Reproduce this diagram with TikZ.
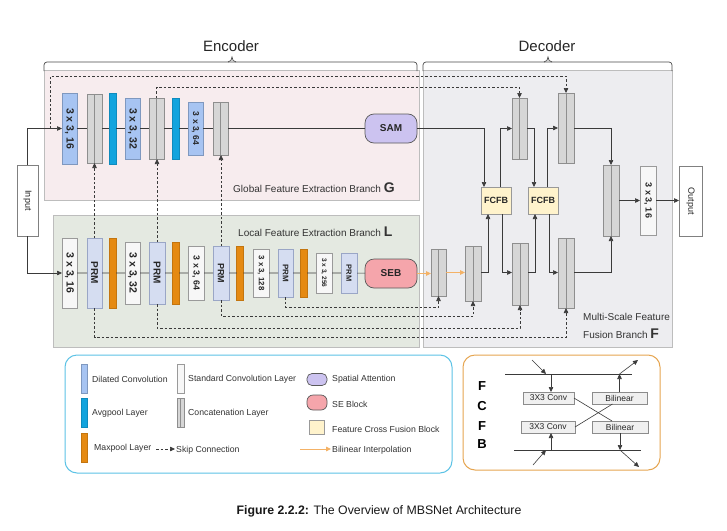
\documentclass[tikz,border=0pt]{standalone}
\usepackage{fontspec}
\setmainfont{Liberation Sans}
\usetikzlibrary{arrows.meta,calc}
\definecolor{pinkF}{HTML}{F7ECEE}
\definecolor{greenF}{HTML}{E4E9E1}
\definecolor{decF}{HTML}{EDEDF0}
\definecolor{regB}{HTML}{BDBDBD}
\definecolor{dilF}{HTML}{A7C4F2}
\definecolor{dilB}{HTML}{7F98BF}
\definecolor{catF}{HTML}{D6D6D6}
\definecolor{catB}{HTML}{8E8E8E}
\definecolor{avgF}{HTML}{12A4DE}
\definecolor{maxF}{HTML}{E58A12}
\definecolor{stdF}{HTML}{F7F7F7}
\definecolor{stdB}{HTML}{9A9A9A}
\definecolor{prmF}{HTML}{D5DDF1}
\definecolor{prmB}{HTML}{9AA6C6}
\definecolor{samF}{HTML}{CCC3F0}
\definecolor{sebF}{HTML}{F5A5AB}
\definecolor{fcfbF}{HTML}{FFF3CC}
\definecolor{bilC}{HTML}{F4B266}
\definecolor{legB}{HTML}{5DC3E6}
\definecolor{legO}{HTML}{E6A550}
\definecolor{lineC}{HTML}{3A3A3A}
\newcommand{\rottxt}[2]{\rotatebox{-90}{\fontsize{#1}{#1}\selectfont\bfseries #2}}
\begin{document}
\begin{tikzpicture}[x=1pt,y=-1pt,
  base/.style={inner sep=0pt, outer sep=0pt, line width=0.6pt, text=black!85},
  sz/.style 2 args={minimum width=#1pt, minimum height=#2pt},
  dil/.style={base, draw=dilB, fill=dilF},
  cat/.style={base, draw=catB, fill=catF, path picture={\draw[catB, line width=0.6pt] (path picture bounding box.north) -- (path picture bounding box.south);}},
  avg/.style={base, fill=avgF, draw=avgF!85!black},
  maxp/.style={base, fill=maxF, draw=maxF!85!black},
  std/.style={base, draw=stdB, fill=stdF},
  prm/.style={base, draw=prmB, fill=prmF},
  samst/.style={base, draw=black!65, fill=samF, rounded corners=9pt, line width=0.7pt},
  sebst/.style={base, draw=black!65, fill=sebF, rounded corners=9pt, line width=0.7pt},
  fcfb/.style={base, draw=black!40, fill=fcfbF},
  io/.style={base, draw=black!50, fill=white},
  fbox/.style={base, draw=black!45, fill=black!6, font=\fontsize{8.5}{9}\selectfont},
  wire/.style={draw=lineC, line width=0.6pt},
  arr/.style={wire, -{Triangle[length=5pt,width=4.5pt]}},
  skipline/.style={draw=lineC, line width=0.6pt, dash pattern=on 2.5pt off 2pt},
  skiparr/.style={skipline, -{Triangle[length=5pt,width=4.5pt]}},
  bil/.style={draw=bilC, line width=0.9pt, -{Triangle[length=5pt,width=4.5pt]}},
  lbl/.style={inner sep=1pt, anchor=west, text=black!80},
  legt/.style={inner sep=1pt, anchor=west, text=black!80, font=\fontsize{8.7}{10}\selectfont}
]
\useasboundingbox (0,0) rectangle (727,530);
\fill[white] (0,0) rectangle (727,530);

% regions
\filldraw[fill=decF, draw=regB, line width=0.8pt] (423,70) rectangle (672,347);
\filldraw[fill=pinkF, draw=regB, line width=0.8pt] (44,70) rectangle (419,200);
\filldraw[fill=greenF, draw=regB, line width=0.8pt] (53,215) rectangle (419,347);

% braces
\draw[black!70, line width=0.7pt, rounded corners=3pt] (44,71) -- (44,62) -- (417,62) -- (417,71);
\draw[black!70, line width=0.7pt] (228,62) to[out=0,in=-90] (232,57) to[out=-90,in=180] (236,62);
\draw[black!70, line width=0.7pt, rounded corners=3pt] (423,71) -- (423,62) -- (672,62) -- (672,71);
\draw[black!70, line width=0.7pt] (544,62) to[out=0,in=-90] (548,57) to[out=-90,in=180] (552,62);
\node[inner sep=0pt, font=\fontsize{15}{15}\selectfont, text=black!85] (enc) at (231,46) {Encoder};
\node[inner sep=0pt, font=\fontsize{15}{15}\selectfont, text=black!85] (dec) at (547,46) {Decoder};

% input
\node[io, sz={21}{71}] (in) at (27.5,200.5) {\rotatebox{-90}{\fontsize{9}{9}\selectfont Input}};

% global branch
\node[dil, sz={15}{71}] (g1) at (69.5,128.5) {\rottxt{10.5}{3 x 3, 16}};
\node[cat, sz={15}{69}] (g2) at (94.5,128.5) {};
\node[avg, sz={7}{71}] (g3) at (112.5,128.5) {};
\node[dil, sz={15}{61}] (g4) at (132.5,128.5) {\rottxt{10.5}{3 x 3, 32}};
\node[cat, sz={15}{61}] (g5) at (156.5,128.5) {};
\node[avg, sz={7}{61}] (g6) at (175.5,128.5) {};
\node[dil, sz={15}{53}] (g7) at (195.5,128.5) {\rottxt{8.5}{3 x 3, 64}};
\node[cat, sz={15}{53}] (g8) at (220.5,128.5) {};
\node[samst, sz={52}{29}] (sam) at (391,128.5) {\fontsize{10}{10}\selectfont\bfseries SAM};
\node[lbl, font=\fontsize{10}{10}\selectfont] (gl) at (232,188) {Global Feature Extraction Branch \raisebox{-0.5pt}{\fontsize{14}{14}\selectfont\bfseries G}};

% local branch
\node[std, sz={15}{70}] (l1) at (69.5,273) {\rottxt{10.5}{3 x 3, 16}};
\node[prm, sz={15}{70}] (l2) at (94.5,273) {\rottxt{10}{PRM}};
\node[maxp, sz={7}{70}] (l3) at (112.5,273) {};
\node[std, sz={15}{62}] (l4) at (132.5,273) {\rottxt{10.5}{3 x 3, 32}};
\node[prm, sz={16}{62}] (l5) at (157,273) {\rottxt{10}{PRM}};
\node[maxp, sz={7}{62}] (l6) at (175.5,273) {};
\node[std, sz={16}{54}] (l7) at (196,273) {\rottxt{8.8}{3 x 3, 64}};
\node[prm, sz={16}{54}] (l8) at (221,273) {\rottxt{9}{PRM}};
\node[maxp, sz={6.5}{54}] (l9) at (240,273) {};
\node[std, sz={16}{48}] (l10) at (261,273) {\rottxt{7.8}{3 x 3, 128}};
\node[prm, sz={15}{48}] (l11) at (285.5,273) {\rottxt{8}{PRM}};
\node[maxp, sz={7}{48}] (l12) at (303.5,273) {};
\node[std, sz={16}{40}] (l13) at (324,273) {\rottxt{6.5}{3 x 3, 256}};
\node[prm, sz={16}{40}] (l14) at (349,273) {\rottxt{7.5}{PRM}};
\node[sebst, sz={52}{29}] (seb) at (391,273.5) {\fontsize{10}{10}\selectfont\bfseries SEB};
\node[lbl, font=\fontsize{10}{10}\selectfont] (ll) at (237,232) {Local Feature Extraction Branch \raisebox{-0.5pt}{\fontsize{14}{14}\selectfont\bfseries L}};

% decoder
\node[cat, sz={15}{61}] (dc1) at (519.5,128.5) {};
\node[cat, sz={16}{70}] (dc2) at (566,128) {};
\node[fcfb, sz={30}{27}] (f1) at (496,200.5) {\fontsize{9}{9}\selectfont\bfseries FCFB};
\node[fcfb, sz={30}{27}] (f2) at (543,200.5) {\fontsize{9}{9}\selectfont\bfseries FCFB};
\node[cat, sz={16}{71}] (dc3) at (611,200.5) {};
\node[std, sz={16}{69}] (o3) at (648,200.5) {\rottxt{9}{3 x 3, 16}};
\node[io, sz={23}{70}] (out) at (690.5,201) {\rotatebox{-90}{\fontsize{9}{9}\selectfont Output}};
\node[cat, sz={15}{47}] (bc1) at (438.5,272.5) {};
\node[cat, sz={16}{55}] (bc2) at (473,273.5) {};
\node[cat, sz={16}{62}] (bc3) at (520,274) {};
\node[cat, sz={16}{70}] (bc4) at (566,273) {};
\node[lbl, font=\fontsize{10}{10}\selectfont] (fl1) at (582,317) {Multi-Scale Feature};
\node[lbl, font=\fontsize{10}{10}\selectfont] (fl2) at (582,334) {Fusion Branch \raisebox{-0.5pt}{\fontsize{14}{14}\selectfont\bfseries F}};

% solid connectors
\draw[arr] (in.north) |- (g1.west);
\draw[arr] (in.south) |- (l1.west);
\draw[wire] (g1) -- (g2) (g2) -- (g3) (g3) -- (g4) (g4) -- (g5) (g5) -- (g6) (g6) -- (g7) (g7) -- (g8) (g8) -- (sam);
\draw[wire] (l1) -- (l2) (l2) -- (l3) (l3) -- (l4) (l4) -- (l5) (l5) -- (l6) (l6) -- (l7) (l7) -- (l8) (l8) -- (l9) (l9) -- (l10) (l10) -- (l11) (l11) -- (l12) (l12) -- (l13) (l13) -- (l14) (l14) -- (seb);
\draw[arr] (sam.east) -| ([xshift=-12pt]f1.north);
\draw[arr] ([xshift=4pt]f1.north) |- (dc1.west);
\draw[arr] (dc1.east) -| ([xshift=-9pt]f2.north);
\draw[arr] ([xshift=4pt]f2.north) |- (dc2.west);
\draw[arr] (dc2.east) -| (dc3.north);
\draw[arr] (dc3.east) -- (o3.west);
\draw[arr] (o3.east) -- (out.west |- o3.east);
\draw[bil] (seb.east) -- (seb.east -| bc1.west);
\draw[bil] (bc1.east) -- (bc1.east -| bc2.west);
\draw[arr] (bc1.east -| bc2.east) -| ([xshift=-8pt]f1.south);
\draw[arr] ([xshift=6pt]f1.south) |- (bc3.west |- bc1.east);
\draw[arr] (bc3.east |- bc1.east) -| ([xshift=-8pt]f2.south);
\draw[arr] ([xshift=6pt]f2.south) |- (bc4.west |- bc1.east);
\draw[arr] (bc4.east |- bc1.east) -| (dc3.south);

% dashed skip connections
\coordinate (s0) at (50,128.5);
\coordinate (yo) at (0,76);
\coordinate (yi) at (0,87);
\coordinate (y1) at (0,307);
\coordinate (y2) at (0,316);
\coordinate (y3) at (0,328);
\coordinate (y4) at (0,337);
\draw[skiparr] (s0) -- (s0 |- yo) -| (dc2.north);
\draw[skiparr] (g5.north) -- (g5.north |- yi) -| (dc1.north);
\draw[skiparr] (l2.north) -- (l2.north |- g2.south);
\draw[skiparr] (l5.north) -- (l5.north |- g5.south);
\draw[skiparr] (l8.north) -- (l8.north |- g8.south);
\draw[skiparr] (l11.south) -- (l11.south |- y1) -| (bc1.south);
\draw[skiparr] (l8.south) -- (l8.south |- y2) -| (bc2.south);
\draw[skiparr] (l5.south) -- (l5.south |- y3) -| (bc3.south);
\draw[skiparr] (l2.south) -- (l2.south |- y4) -| (bc4.south);

% legend 1
\draw[legB, line width=1pt, rounded corners=12pt] (65,355) rectangle (452,473);
\node[dil, sz={6}{29}] (lg1) at (84,378.5) {};
\node[legt] (lt1) at (91,379) {Dilated Convolution};
\node[avg, sz={6}{29}] (lg2) at (84,412.5) {};
\node[legt] (lt2) at (91,413) {Avgpool Layer};
\node[maxp, sz={6}{29}] (lg3) at (84,447.5) {};
\node[legt] (lt3) at (93,448) {Maxpool Layer};
\node[std, sz={7}{29}] (lg4) at (180.5,378.5) {};
\node[legt] (lt4) at (187,379) {Standard Convolution Layer};
\node[cat, sz={7}{29}] (lg5) at (180.5,412.5) {};
\node[legt] (lt5) at (187,413) {Concatenation Layer};
\coordinate (sk1) at (156,449);
\node[legt] (lt6) at (175,450) {Skip Connection};
\draw[skiparr] (sk1) -- (sk1 -| lt6.west);
\node[samst, sz={20}{12}, rounded corners=5pt] (lg7) at (317,379.5) {};
\node[legt] (lt7) at (331,379) {Spatial Attention};
\node[sebst, sz={20}{15}, rounded corners=6pt] (lg8) at (317,402.5) {};
\node[legt] (lt8) at (331,404) {SE Block};
\node[fcfb, sz={15}{14}] (lg9) at (316.5,427) {};
\node[legt] (lt9) at (331,429) {Feature Cross Fusion Block};
\coordinate (bl1) at (300,449);
\node[legt] (lt10) at (331,450) {Bilinear Interpolation};
\draw[bil] (bl1) -- (bl1 -| lt10.west);

% legend 2 (FCFB)
\draw[legO, line width=1pt, rounded corners=12pt] (463,355) rectangle (660,470);
\node[font=\fontsize{13}{13}\selectfont\bfseries, inner sep=0pt] (lf1) at (482,386) {F};
\node[font=\fontsize{13}{13}\selectfont\bfseries, inner sep=0pt] (lf2) at (482,406) {C};
\node[font=\fontsize{13}{13}\selectfont\bfseries, inner sep=0pt] (lf3) at (482,426) {F};
\node[font=\fontsize{13}{13}\selectfont\bfseries, inner sep=0pt] (lf4) at (482,444) {B};
\coordinate (tl1) at (505,374);
\coordinate (tl2) at (632,374);
\coordinate (bl2) at (514,450);
\coordinate (bl3) at (641,450);
\draw[wire] (tl1) -- (tl2);
\draw[wire] (bl2) -- (bl3);
\node[fbox, sz={51}{12}] (cv1) at (548.5,398) {3X3 Conv};
\node[fbox, sz={55}{12}] (bi1) at (619.5,398) {Bilinear};
\node[fbox, sz={54}{12}] (cv2) at (548,427) {3X3 Conv};
\node[fbox, sz={56}{12}] (bi2) at (620,427) {Bilinear};
\coordinate (a1) at (532,360);
\coordinate (a2) at (546,374);
\coordinate (a3) at (638,360);
\coordinate (a4) at (533,465);
\coordinate (a5) at (546,450);
\coordinate (a6) at (639,467);
\draw[arr] (a1) -- (a2);
\draw[arr] ([xshift=2.5pt]cv1.north |- tl1) -- ([xshift=2.5pt]cv1.north);
\draw[arr] (bi1.north) -- (bi1.north |- tl1);
\draw[arr] (bi1.north |- tl1) -- (a3);
\draw[wire] (cv1.east) -- ([xshift=-8pt]bi2.north);
\draw[wire] (cv2.east) -- ([xshift=-7pt]bi1.south);
\draw[arr] ([xshift=3pt]cv2.south |- bl2) -- ([xshift=3pt]cv2.south);
\draw[arr] (a4) -- (a5);
\draw[arr] (bi2.south) -- (bi2.south |- bl2);
\draw[arr] (bi2.south |- bl2) -- (a6);

% caption
\node[inner sep=0pt, font=\fontsize{12.3}{12.3}\selectfont, text=black!90] (cap) at (379,511) {\textbf{Figure 2.2.2:} The Overview of MBSNet Architecture};
\end{tikzpicture}
\end{document}
